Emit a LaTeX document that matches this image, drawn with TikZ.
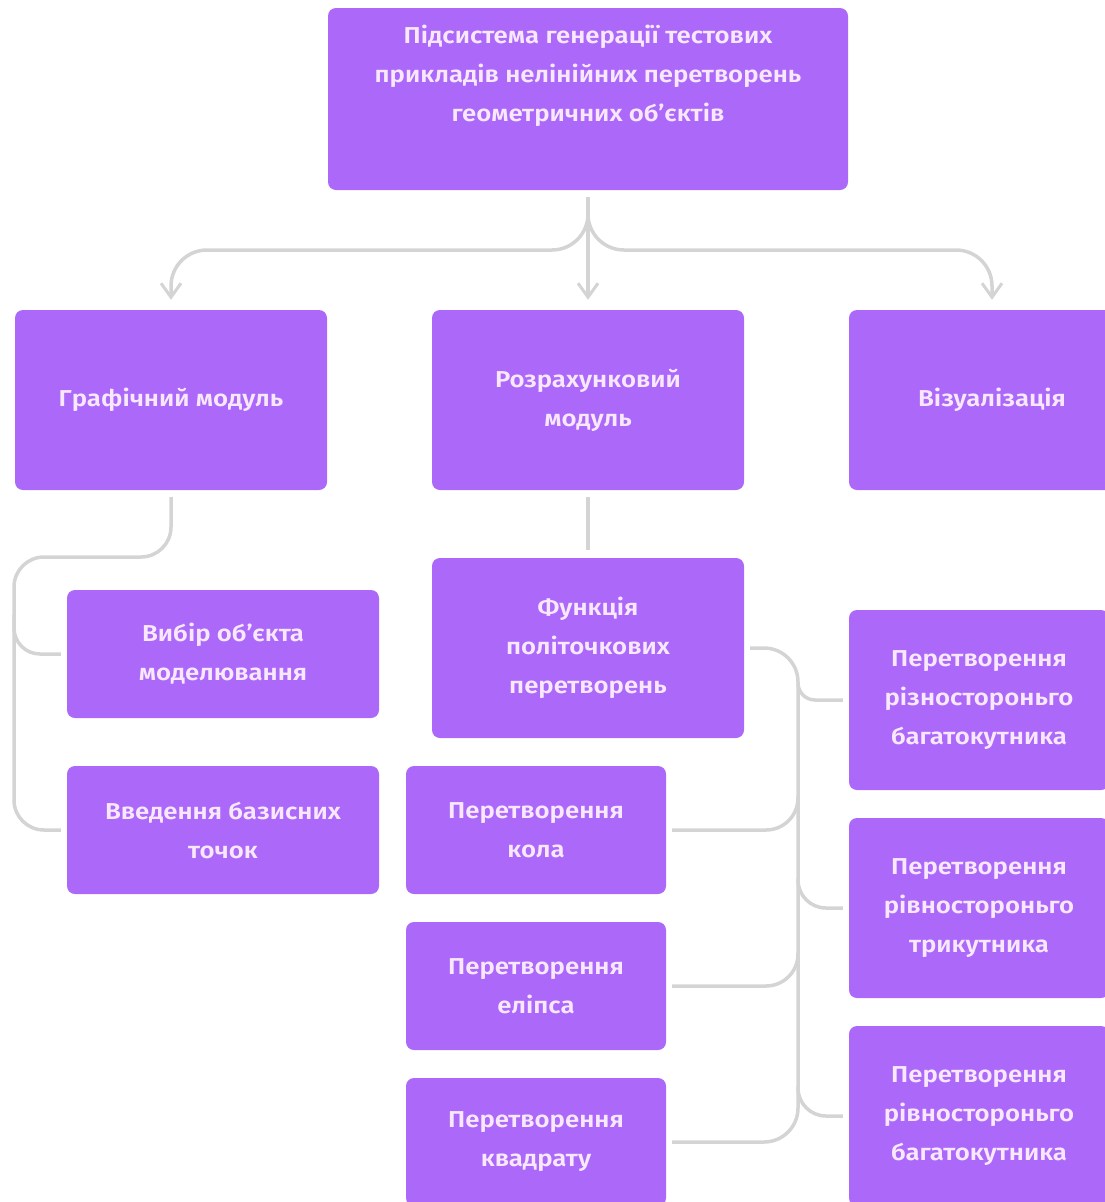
\documentclass[tikz,border=0pt]{standalone}
\usepackage{fontspec}
\setmainfont{Fira Sans}[BoldFont={Fira Sans SemiBold}, FakeStretch=1.12]
\usetikzlibrary{arrows.meta}

\definecolor{boxfill}{RGB}{172,104,248}
\definecolor{boxtext}{RGB}{247,232,255}
\definecolor{linegray}{RGB}{212,212,212}

\tikzset{
  block/.style={fill=boxfill, rounded corners=8pt, text=boxtext, align=center,
    font=\fontsize{23}{39}\selectfont\bfseries, inner sep=0pt},
  wideblock/.style={block, minimum width=312pt, minimum height=180pt},
  lowblock/.style={block, minimum width=312pt, minimum height=128pt},
  narrowblock/.style={block, minimum width=260pt, minimum height=128pt},
  sideblock/.style={block, minimum width=260pt, minimum height=180pt},
  link/.style={draw=linegray, line width=3.5pt, rounded corners=30pt},
  arrowed/.style={-{Straight Barb[length=14pt,width=20pt,line width=3pt]}}
}

\begin{document}
\begin{tikzpicture}[x=1pt,y=-1pt]
\useasboundingbox (0,0) rectangle (1105,1202);

% top
\node[block, minimum width=520pt, minimum height=182pt, text depth=60pt] (sys) at (588,99)
  {\begin{tabular}[b]{@{}c@{}}Підсистема генерації тестових\\прикладів нелінійних перетворень\\геометричних об’єктів\end{tabular}};

% modules
\node[wideblock] (graf) at (171,400) {Графічний модуль};
\node[wideblock] (rozr) at (588,400) {Розрахунковий\\модуль};
\node[block, minimum width=286pt, minimum height=180pt] (vis) at (992,400) {Візуалізація};

\node[lowblock] (vybir) at (223,654) {Вибір об’єкта\\моделювання};
\node[lowblock] (vved) at (223,830) {Введення базисних\\точок};

\node[wideblock] (func) at (588,648) {Функція\\політочкових\\перетворень};

\node[narrowblock] (kolo) at (536,830) {Перетворення\\кола};
\node[narrowblock] (elips) at (536,986) {Перетворення\\еліпса};
\node[narrowblock] (kvadr) at (536,1142) {Перетворення\\квадрату};

\node[sideblock] (rizn) at (979,700) {Перетворення\\різностороньго\\багатокутника};
\node[sideblock] (trik) at (979,908) {Перетворення\\рівностороньго\\трикутника};
\node[sideblock] (bagat) at (979,1116) {Перетворення\\рівностороньго\\багатокутника};

% links from the top
\coordinate (split) at (588,250);
\draw[link, arrowed, shorten <=7pt, shorten >=10pt] (sys.south) -- (rozr.north);
\draw[link, arrowed, rounded corners=36pt, shorten <=7pt, shorten >=10pt] (sys.south) -- (split) -| (graf.north);
\draw[link, arrowed, rounded corners=36pt, shorten <=7pt, shorten >=10pt] (sys.south) -- (split) -| (vis.north);

% graphic module
\coordinate (gturn) at (14,557);
\coordinate (gfork) at (14,615);
\draw[link, shorten <=7pt, shorten >=6pt] (graf.south) |- (gturn) |- (vved.west);
\draw[link, rounded corners=26pt, shorten >=6pt] (gfork) |- (vybir.west);

% calculation module
\draw[link, shorten <=7pt, shorten >=8pt] (rozr.south) -- (func.north);

\coordinate (fturn) at (798,900);
\coordinate (fr1) at (798,683);
\coordinate (fr2) at (798,878);
\coordinate (fr3) at (798,1086);
\coordinate (fl1) at (798,796);
\coordinate (fl2) at (798,952);
\draw[link, rounded corners=34pt, shorten <=6pt, shorten >=6pt] (func.east) -| (fturn) |- (kvadr.east);
\draw[link, rounded corners=17pt, shorten >=6pt] (fr1) |- (rizn.west);
\draw[link, rounded corners=28pt, shorten >=6pt] (fr2) |- (trik.west);
\draw[link, rounded corners=28pt, shorten >=6pt] (fr3) |- (bagat.west);
\draw[link, rounded corners=32pt, shorten >=6pt] (fl1) |- (kolo.east);
\draw[link, rounded corners=32pt, shorten >=6pt] (fl2) |- (elips.east);
\end{tikzpicture}
\end{document}
